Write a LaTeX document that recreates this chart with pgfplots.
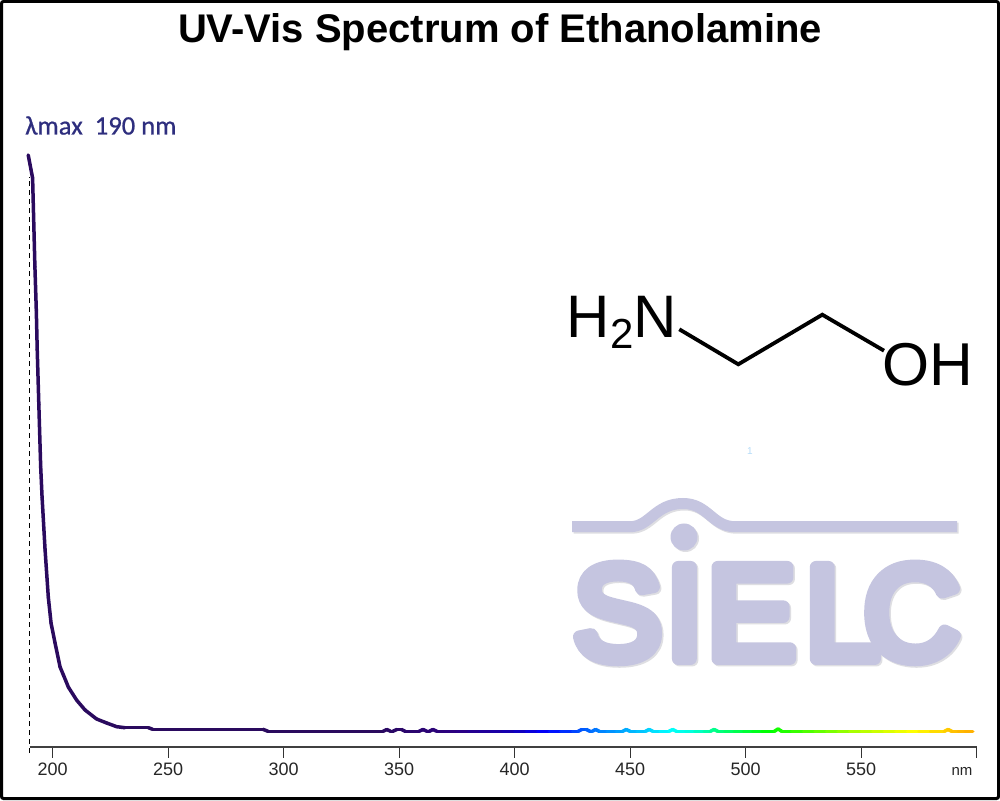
\documentclass[border=0pt]{standalone}
\usepackage{fontspec}
\usepackage{pgfplots}
\pgfplotsset{compat=1.18}
\setmainfont{Liberation Sans}
\newfontfamily\calfont[FakeBold=0.7]{Carlito}
\newfontfamily\logofont[FakeBold=9.4]{Liberation Sans}
\definecolor{clrAxis}{RGB}{64,64,64}
\definecolor{clrLam}{RGB}{46,46,126}
\definecolor{clrLogo}{RGB}{197,197,224}
\definecolor{clrShade}{RGB}{222,222,226}
\definecolor{clrOne}{RGB}{181,220,248}
\pgfplotsset{colormap={spectrum}{
  rgb255(190pt)=(42,10,94);
  rgb255(340pt)=(42,10,94);
  rgb255(375pt)=(44,0,130);
  rgb255(400pt)=(20,0,180);
  rgb255(414pt)=(0,0,255);
  rgb255(437pt)=(0,128,255);
  rgb255(458pt)=(0,208,255);
  rgb255(467pt)=(0,255,255);
  rgb255(477pt)=(0,255,221);
  rgb255(486pt)=(0,255,144);
  rgb255(510pt)=(0,255,0);
  rgb255(549pt)=(176,255,0);
  rgb255(573pt)=(255,255,0);
  rgb255(592pt)=(255,187,0);
  rgb255(600pt)=(255,170,0);
}}
\newcommand{\logoword}{\logofont\fontsize{133}{133}\selectfont S\kern4pt I\kern4pt E\kern9.6pt L\kern-15.5pt C}
\newcommand{\logobar}{(572,526.7) -- (630,526.7)
    .. controls (650,526.7) and (655,503.5) .. (683,503.5)
    .. controls (708,503.5) and (712,526.7) .. (735,526.7) -- (957,526.7)}
\begin{document}
\begin{tikzpicture}[x=1pt,y=1pt]
\path[use as bounding box] (0,0) rectangle (1000,800);
\fill[white] (0,0) rectangle (1000,800);
\draw[black,line width=3pt,rounded corners=2pt] (1.5,1.5) rectangle (998.5,798.5);

% logo and structure, in image pixels (y downwards)
\begin{scope}[yshift=800pt,y=-1pt]
  \draw[clrShade,line width=11pt,shift={(1.5,1.5)}] \logobar;
  \fill[clrShade] (685.5,538.5) circle (13.5);
  \draw[clrLogo,line width=11pt] \logobar;
  \fill[clrLogo] (684,537) circle (13.5);
  \begin{scope}[line join=round,line cap=round]
    \node[anchor=base west,inner sep=0pt,text=clrShade] at (574.5,660.2) {\logoword};
    \node[anchor=base west,inner sep=0pt,text=clrLogo] at (573,658.7) {\logoword};
  \end{scope}
  \draw[black,line width=3.8pt,line join=miter] (679.3,329.3) -- (738.3,364.3) -- (822.3,314.7) -- (884,350.7);
  \node[anchor=base west,inner sep=0pt] at (566.5,338)
    {\fontsize{60}{60}\selectfont H\raisebox{-11pt}{\fontsize{42}{42}\selectfont 2}N};
  \node[anchor=base west,inner sep=0pt] at (882,386)
    {\fontsize{60.5}{60.5}\selectfont OH};
  \node[text=clrOne,font=\fontsize{10}{10}\selectfont] at (750,451) {1};
  \node[font=\bfseries\fontsize{40}{44}\selectfont] at (500,32) {UV-Vis Spectrum of Ethanolamine};
  \node[anchor=base west,inner sep=0pt,text=clrLam] at (25,134.5)
    {\calfont\fontsize{26.6}{26.6}\selectfont λmax\ \ 190 nm};
  \node[font=\fontsize{15}{15}\selectfont,text=black!85] at (962,771.7) {nm};
\end{scope}

\begin{axis}[
  at={(29.6pt,53pt)}, anchor=south west,
  scale only axis, width=947.1pt, height=592pt,
  xmin=190, xmax=600, ymin=0, ymax=1,
  clip=false,
  axis y line=none, axis x line=bottom,
  x axis line style={-,clrAxis,line width=1.2pt},
  xtick={200,250,...,550},
  extra x ticks={600}, extra x tick labels={},
  tick style={black!80,line width=1.1pt},
  tick align=outside, major tick length=10.6pt,
  ticklabel style={font=\fontsize{18}{20}\selectfont,color=black!85},
  xticklabel style={yshift=-1.5pt},
  /pgf/number format/assume math mode=true,
  point meta min=190, point meta max=600,
]
\addplot[black,line width=1.5pt,dash pattern=on 5.5pt off 3.5pt,forget plot] coordinates {(190,-0.0105) (190,0.963)};
\addplot[mesh,point meta=x,colormap name=spectrum,line width=3.5pt,line cap=round,line join=round,no markers] table {
x y
189.4 1.000
191.3 0.961
192.3 0.811
192.9 0.738
193.3 0.671
194.0 0.578
194.8 0.473
195.4 0.422
196.7 0.333
198.1 0.253
199.3 0.209
201.0 0.176
203.2 0.135
204.6 0.122
206.8 0.101
210.4 0.079
214.0 0.0625
219.0 0.0473
223.4 0.0405
227.7 0.0343
231.3 0.0326
241.4 0.0326
243.3 0.0299
291.0 0.0299
293.2 0.0265
343.0 0.0265
344.6 0.0296
346.3 0.0265
347.2 0.0265
349.0 0.0296
351.0 0.0296
352.6 0.0265
358.6 0.0265
360.3 0.0296
362.0 0.0265
363.0 0.0265
364.6 0.0296
366.3 0.0265
370 0.0265
375 0.0265
380 0.0265
385 0.0265
390 0.0265
395 0.0265
400 0.0265
405 0.0265
410 0.0265
415 0.0265
420 0.0265
425 0.0265
427.5 0.0265
429 0.0296
431 0.0296
432.6 0.0265
433.5 0.0265
435 0.0296
436.6 0.0265
440 0.0265
444 0.0265
446.7 0.0265
448.3 0.0296
449.9 0.0265
453 0.0265
456.6 0.0265
458.2 0.0296
459.8 0.0265
463 0.0265
466.8 0.0265
468.4 0.0296
470 0.0265
474 0.0265
478 0.0265
482 0.0265
484.7 0.0265
486.3 0.0296
487.9 0.0265
491 0.0265
495 0.0265
499 0.0265
503 0.0265
507 0.0265
512.4 0.0265
514 0.0305
515.6 0.0265
520 0.0265
525 0.0265
530 0.0265
535 0.0265
540 0.0265
545 0.0265
550 0.0265
555 0.0265
560 0.0265
565 0.0265
570 0.0265
575 0.0265
580 0.0265
586 0.0265
587.6 0.0296
589.2 0.0265
592 0.0265
595 0.0265
598.3 0.0265
};
\end{axis}
\end{tikzpicture}
\end{document}
